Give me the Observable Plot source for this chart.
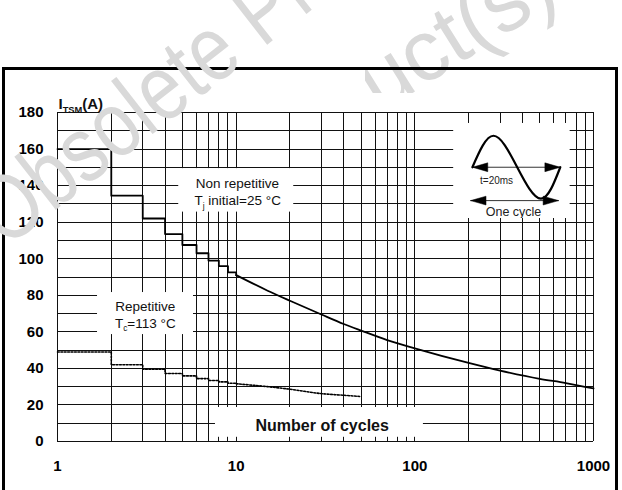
<!DOCTYPE html>
<html><head><meta charset="utf-8">
<script src="https://cdn.jsdelivr.net/npm/d3@7"></script>
<script src="https://cdn.jsdelivr.net/npm/@observablehq/plot@0.6"></script>
<style>
html,body{margin:0;padding:0;background:#fff;}
#wrap{position:relative;width:622px;height:490px;overflow:hidden;font-family:"Liberation Sans",Arial,Helvetica,sans-serif;}
#wrap > *{position:absolute;left:0;top:0;}
#frame{left:2px !important;top:67px !important;width:616px;height:440px;border:3px solid #000;border-bottom:none;box-sizing:border-box;}
</style></head><body><div id="wrap"></div>
<script>
// ---------- data ----------
const stepCycles = [1, 2, 3, 4, 5, 6, 7, 8, 9, 10];
const nonRepStep = [160, 134.5, 122, 113.5, 107.5, 103, 99, 96, 92.5, 91];
const nonRepCycles = [10, 15, 20, 30, 40, 50, 70, 100, 200, 300, 500, 700, 1000];
const nonRepCurve = [91, 82.5, 77, 69.5, 64.3, 60.7, 55.5, 51, 43, 38.8, 34.3, 32, 29];
const repStep = [49, 42, 39.5, 37.2, 35.9, 34.4, 33.4, 32.6, 31.9, 31.6];
const repCycles = [10, 15, 20, 30, 40, 50];
const repCurve = [31.6, 30, 28.6, 26.2, 25.3, 24.6];

const xTicks = [1, 10, 100, 1000];
const yTicks = [0, 20, 40, 60, 80, 100, 120, 140, 160, 180];
const xGrid = [1,2,3,4,5,6,7,8,9,10,20,30,40,50,60,70,80,90,100,200,300,400,500,600,700,800,900,1000];
const yGrid = [0,10,20,30,40,50,60,70,80,90,100,110,120,130,140,150,160,170,180];

// white label boxes (cycles / amps)
const boxX1 = [4.77, 1.675, 7.66, 165];
const boxX2 = [21, 5.77, 111.7, 740];
const boxY1 = [125.5, 58.5, 2.3, 122];
const boxY2 = [149.3, 81.5, 18.6, 174];

const labelText = ["Non repetitive", "T_{j} initial=25 °C", "Repetitive", "T_{c}=113 °C"];
const labelX = [10.15, 10.2, 3.1, 3.1];
const labelY = [141, 131.8, 73.8, 64.7];

// inset (time in ms, amplitude in peak units)
const waveT = [0, 4.8, 10.2, 15.6, 20];
const waveV = [0, 1, 0, -1, 0];
const arrowT1 = [0, -0.4];
const arrowT2 = [20, 19.6];
const arrowY = [0, -1.06];

(function () {
const font = "'Liberation Sans', Arial, Helvetica, sans-serif";
const toRows = (xs, ys) => xs.map((x, i) => ({x, y: ys[i]}));
const boxes = boxX1.map((d, i) => ({x1: d, x2: boxX2[i], y1: boxY1[i], y2: boxY2[i]}));
const labels = labelText.map((t, i) => ({t, x: labelX[i], y: labelY[i]}));
const dotted = {stroke: "#000", strokeWidth: 1.6, strokeDasharray: "1.8,1.6"};

const chart = Plot.plot({
  width: 622, height: 490,
  marginLeft: 57, marginRight: 29, marginTop: 112, marginBottom: 49,
  style: {fontFamily: font, background: "transparent", color: "#000"},
  x: {type: "log", domain: [1, 1000]},
  y: {domain: [0, 180]},
  marks: [
    Plot.ruleX(xGrid, {stroke: "#111", strokeWidth: 1, shapeRendering: "crispEdges"}),
    Plot.ruleY(yGrid, {stroke: "#111", strokeWidth: 1, shapeRendering: "crispEdges"}),
    Plot.rect(boxes, {x1: "x1", x2: "x2", y1: "y1", y2: "y2", fill: "white"}),
    Plot.line(toRows(stepCycles, nonRepStep), {x: "x", y: "y", curve: "step-after", stroke: "#000", strokeWidth: 1.8}),
    Plot.line(toRows(nonRepCycles, nonRepCurve), {x: "x", y: "y", curve: "monotone-x", stroke: "#000", strokeWidth: 1.8}),
    Plot.line(toRows(stepCycles, repStep), {x: "x", y: "y", curve: "step-after", ...dotted}),
    Plot.line(toRows(repCycles, repCurve), {x: "x", y: "y", curve: "monotone-x", ...dotted}),
    Plot.text(labels, {x: "x", y: "y", text: "t", fontSize: 13.5, fill: "#111"}),
    Plot.text(["Number of cycles"], {x: [30.3], y: [8.4], text: d => d, fontSize: 16, fontWeight: "bold", fill: "#111"}),
    Plot.text(["I_{TSM}(A)"], {frameAnchor: "top-left", text: d => d, textAnchor: "start", dx: 1, dy: -14, fontSize: 15, fontWeight: "bold", fill: "#111"}),
    Plot.axisX({ticks: xTicks, tickFormat: d => String(d), tickSize: 0, tickPadding: 19, fontSize: 15, fontWeight: "bold", label: null}),
    Plot.axisY({ticks: yTicks, tickSize: 0, tickPadding: 14, fontSize: 15, fontWeight: "bold", label: null})
  ]
});

const wrap = document.getElementById("wrap");
wrap.appendChild(chart);

// inset drawing placed over its white box through the chart scales
const sx = chart.scale("x"), sy = chart.scale("y");
const ib = boxes[3];
const bxLeft = sx.apply(ib.x1), bxRight = sx.apply(ib.x2);
const bxTop = sy.apply(ib.y2), bxBottom = sy.apply(ib.y1);
const L = 3.5, H = 0.14;
const heads = [];
arrowY.forEach((y, i) => {
  const a = arrowT1[i], b = arrowT2[i];
  [[a, a + L], [b, b - L]].forEach(([tip, base], k) => {
    const id = i * 2 + k;
    heads.push({id, t: tip, v: y}, {id, t: base, v: y + H}, {id, t: base, v: y - H}, {id, t: tip, v: y});
  });
});
const inset = Plot.plot({
  width: bxRight - bxLeft, height: bxBottom - bxTop, margin: 0,
  style: {fontFamily: font, background: "transparent", color: "#000"},
  x: {domain: [-4.3, 22.2], axis: null},
  y: {domain: [-1.63, 1.39], axis: null},
  marks: [
    Plot.link(arrowY.map((y, i) => ({t1: arrowT1[i], t2: arrowT2[i], y})), {x1: "t1", x2: "t2", y1: "y", y2: "y", stroke: "#333", strokeWidth: 1}),
    Plot.line(heads, {x: "t", y: "v", z: "id", fill: "#000", stroke: "#000", strokeWidth: 0.5}),
    Plot.line(toRows(waveT, waveV), {x: "x", y: "y", curve: "natural", stroke: "#000", strokeWidth: 2.2}),
    Plot.text(["t=20ms"], {x: [5.5], y: [-0.44], text: d => d, fontSize: 10, fill: "#222"}),
    Plot.text(["One cycle"], {x: [9.35], y: [-1.41], text: d => d, fontSize: 12.5, fill: "#222"})
  ]
});
inset.style.left = bxLeft + "px";
inset.style.top = bxTop + "px";
wrap.appendChild(inset);

// watermark, lower line (only its end is visible, behind the frame)
const wmColor = "#d9d9d9";
const wm2 = d3.create("svg").attr("width", 622).attr("height", 490).style("pointer-events", "none");
const cp = wm2.append("clipPath").attr("id", "wmclip");
cp.append("rect").attr("x", 365).attr("y", 0).attr("width", 257).attr("height", 93);
wm2.append("g").attr("clip-path", "url(#wmclip)")
  .append("text")
  .attr("transform", "translate(-87,405) rotate(-32)")
  .attr("font-family", font).attr("font-size", 86).attr("fill", wmColor)
  .text("Obsolete Product(s)");
wrap.appendChild(wm2.node());

const frame = document.createElement("div");
frame.id = "frame";
wrap.appendChild(frame);

// watermark, upper line (on top of everything)
const wm1 = d3.create("svg").attr("width", 622).attr("height", 490).style("pointer-events", "none");
wm1.append("text")
  .attr("transform", "translate(5,249.5) rotate(-38) scale(0.82,1)")
  .attr("font-family", font).attr("font-size", 93).attr("fill", wmColor)
  .text("Obsolete Pr");
wrap.appendChild(wm1.node());

// subscripts written as X_{sub}
function applySubscripts(root) {
  d3.select(root).selectAll("text").each(function() {
    const s = this.textContent;
    const m = s.match(/^(.*?)_\{(.*?)\}(.*)$/);
    if (!m) return;
    const fs = parseFloat(getComputedStyle(this).fontSize) || 13;
    const sel = d3.select(this);
    sel.text(null);
    sel.append("tspan").text(m[1]);
    sel.append("tspan").attr("dy", fs * 0.28).attr("font-size", fs * 0.62).text(m[2]);
    sel.append("tspan").attr("dy", -fs * 0.28).text(m[3]);
  });
}
applySubscripts(chart);
})();
</script></body></html>
